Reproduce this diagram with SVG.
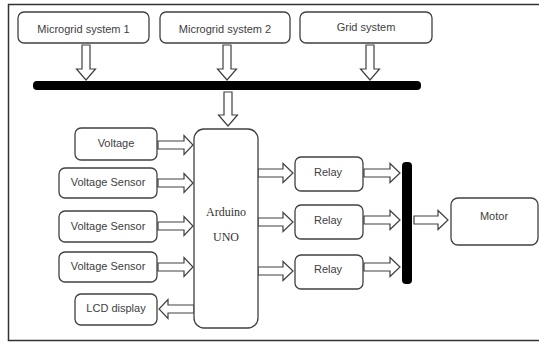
<svg xmlns="http://www.w3.org/2000/svg" width="539" height="342" viewBox="0 0 539 342">
<style>
.box{fill:#fff;stroke:#404040;stroke-width:1.3}
.t{font-family:"Liberation Sans",Arial,sans-serif;font-size:11px;fill:#404040;text-anchor:middle}
.s{font-family:"Liberation Serif","Times New Roman",serif;font-size:12px;fill:#333;text-anchor:middle}
.ar{fill:#fff;stroke:#404040;stroke-width:1.2;stroke-linejoin:miter}
.bar{fill:#000}
</style>
<rect x="0" y="0" width="539" height="342" fill="#fff"/>
<rect x="8.5" y="4.5" width="540" height="336" fill="none" stroke="#333" stroke-width="1.5"/>
<g id="connectors">
<rect id="bus" class="bar" x="33" y="81" width="388" height="9" rx="4"/>
<rect id="vbar" class="bar" x="402" y="162" width="10" height="122" rx="4"/>
<!-- down arrows -->
<polygon class="ar" points="82,45 90,45 90,69 95.5,69 86,80 76.5,69 82,69"/>
<polygon class="ar" points="223,45 231,45 231,69 236.5,69 227,80 217.5,69 223,69"/>
<polygon class="ar" points="366,45 374,45 374,69 379.5,69 370,80 360.5,69 366,69"/>
<polygon class="ar" points="224,92 232,92 232,115 237.5,115 228,126 218.5,115 224,115"/>
<!-- inputs to Arduino -->
<polygon class="ar" points="158,141 184,141 184,135.5 193,145 184,154.5 184,149 158,149"/>
<polygon class="ar" points="158,179 184,179 184,173.5 193,183 184,192.5 184,187 158,187"/>
<polygon class="ar" points="158,222 184,222 184,216.5 193,226 184,235.5 184,230 158,230"/>
<polygon class="ar" points="158,263 184,263 184,257.5 193,267 184,276.5 184,271 158,271"/>
<!-- LCD output -->
<polygon class="ar" points="194,305 168,305 168,299.5 159,309 168,318.5 168,313 194,313"/>
<!-- Arduino to relays -->
<polygon class="ar" points="258,169 283,169 283,163.5 293,173 283,182.5 283,177 258,177"/>
<polygon class="ar" points="258,218 283,218 283,212.5 293,222 283,231.5 283,226 258,226"/>
<polygon class="ar" points="258,267 283,267 283,261.5 293,271 283,280.5 283,275 258,275"/>
<!-- relays to bar -->
<polygon class="ar" points="364,169 390,169 390,163.5 400,173 390,182.5 390,177 364,177"/>
<polygon class="ar" points="364,216 390,216 390,210.5 400,220 390,229.5 390,224 364,224"/>
<polygon class="ar" points="364,263 390,263 390,257.5 400,267 390,276.5 390,271 364,271"/>
<!-- bar to motor -->
<polygon class="ar" points="414,216 438,216 438,210.5 448,220 438,229.5 438,224 414,224"/>
</g>
<g id="ms1"><rect class="box" x="18" y="12" width="131" height="31" rx="6"/><text class="t" x="83.5" y="33">Microgrid system 1</text></g>
<g id="ms2"><rect class="box" x="160" y="12" width="130" height="31" rx="6"/><text class="t" x="225" y="33">Microgrid system 2</text></g>
<g id="grid"><rect class="box" x="300" y="12" width="132" height="31" rx="6"/><text class="t" x="366" y="31">Grid system</text></g>
<g id="voltage"><rect class="box" x="75" y="128" width="82" height="32" rx="6"/><text class="t" x="116" y="147">Voltage</text></g>
<g id="vs1"><rect class="box" x="59" y="168" width="98" height="30" rx="6"/><text class="t" x="108" y="186">Voltage Sensor</text></g>
<g id="vs2"><rect class="box" x="59" y="211" width="98" height="31" rx="6"/><text class="t" x="108" y="230">Voltage Sensor</text></g>
<g id="vs3"><rect class="box" x="59" y="252" width="98" height="30" rx="6"/><text class="t" x="108" y="270">Voltage Sensor</text></g>
<g id="lcd"><rect class="box" x="75" y="294" width="82" height="31" rx="6"/><text class="t" x="116" y="312">LCD display</text></g>
<g id="arduino"><rect class="box" x="194" y="129" width="64" height="199" rx="10"/><text class="s" x="226" y="216">Arduino</text><text class="s" x="226" y="241">UNO</text></g>
<g id="relay1"><rect class="box" x="295" y="157" width="68" height="34" rx="6"/><text class="t" x="328" y="176">Relay</text></g>
<g id="relay2"><rect class="box" x="295" y="205" width="68" height="34" rx="6"/><text class="t" x="328" y="224">Relay</text></g>
<g id="relay3"><rect class="box" x="295" y="255" width="68" height="34" rx="6"/><text class="t" x="328" y="273">Relay</text></g>
<g id="motor"><rect class="box" x="451" y="198" width="87" height="47" rx="7"/><text class="t" x="494" y="220">Motor</text></g>
</svg>
